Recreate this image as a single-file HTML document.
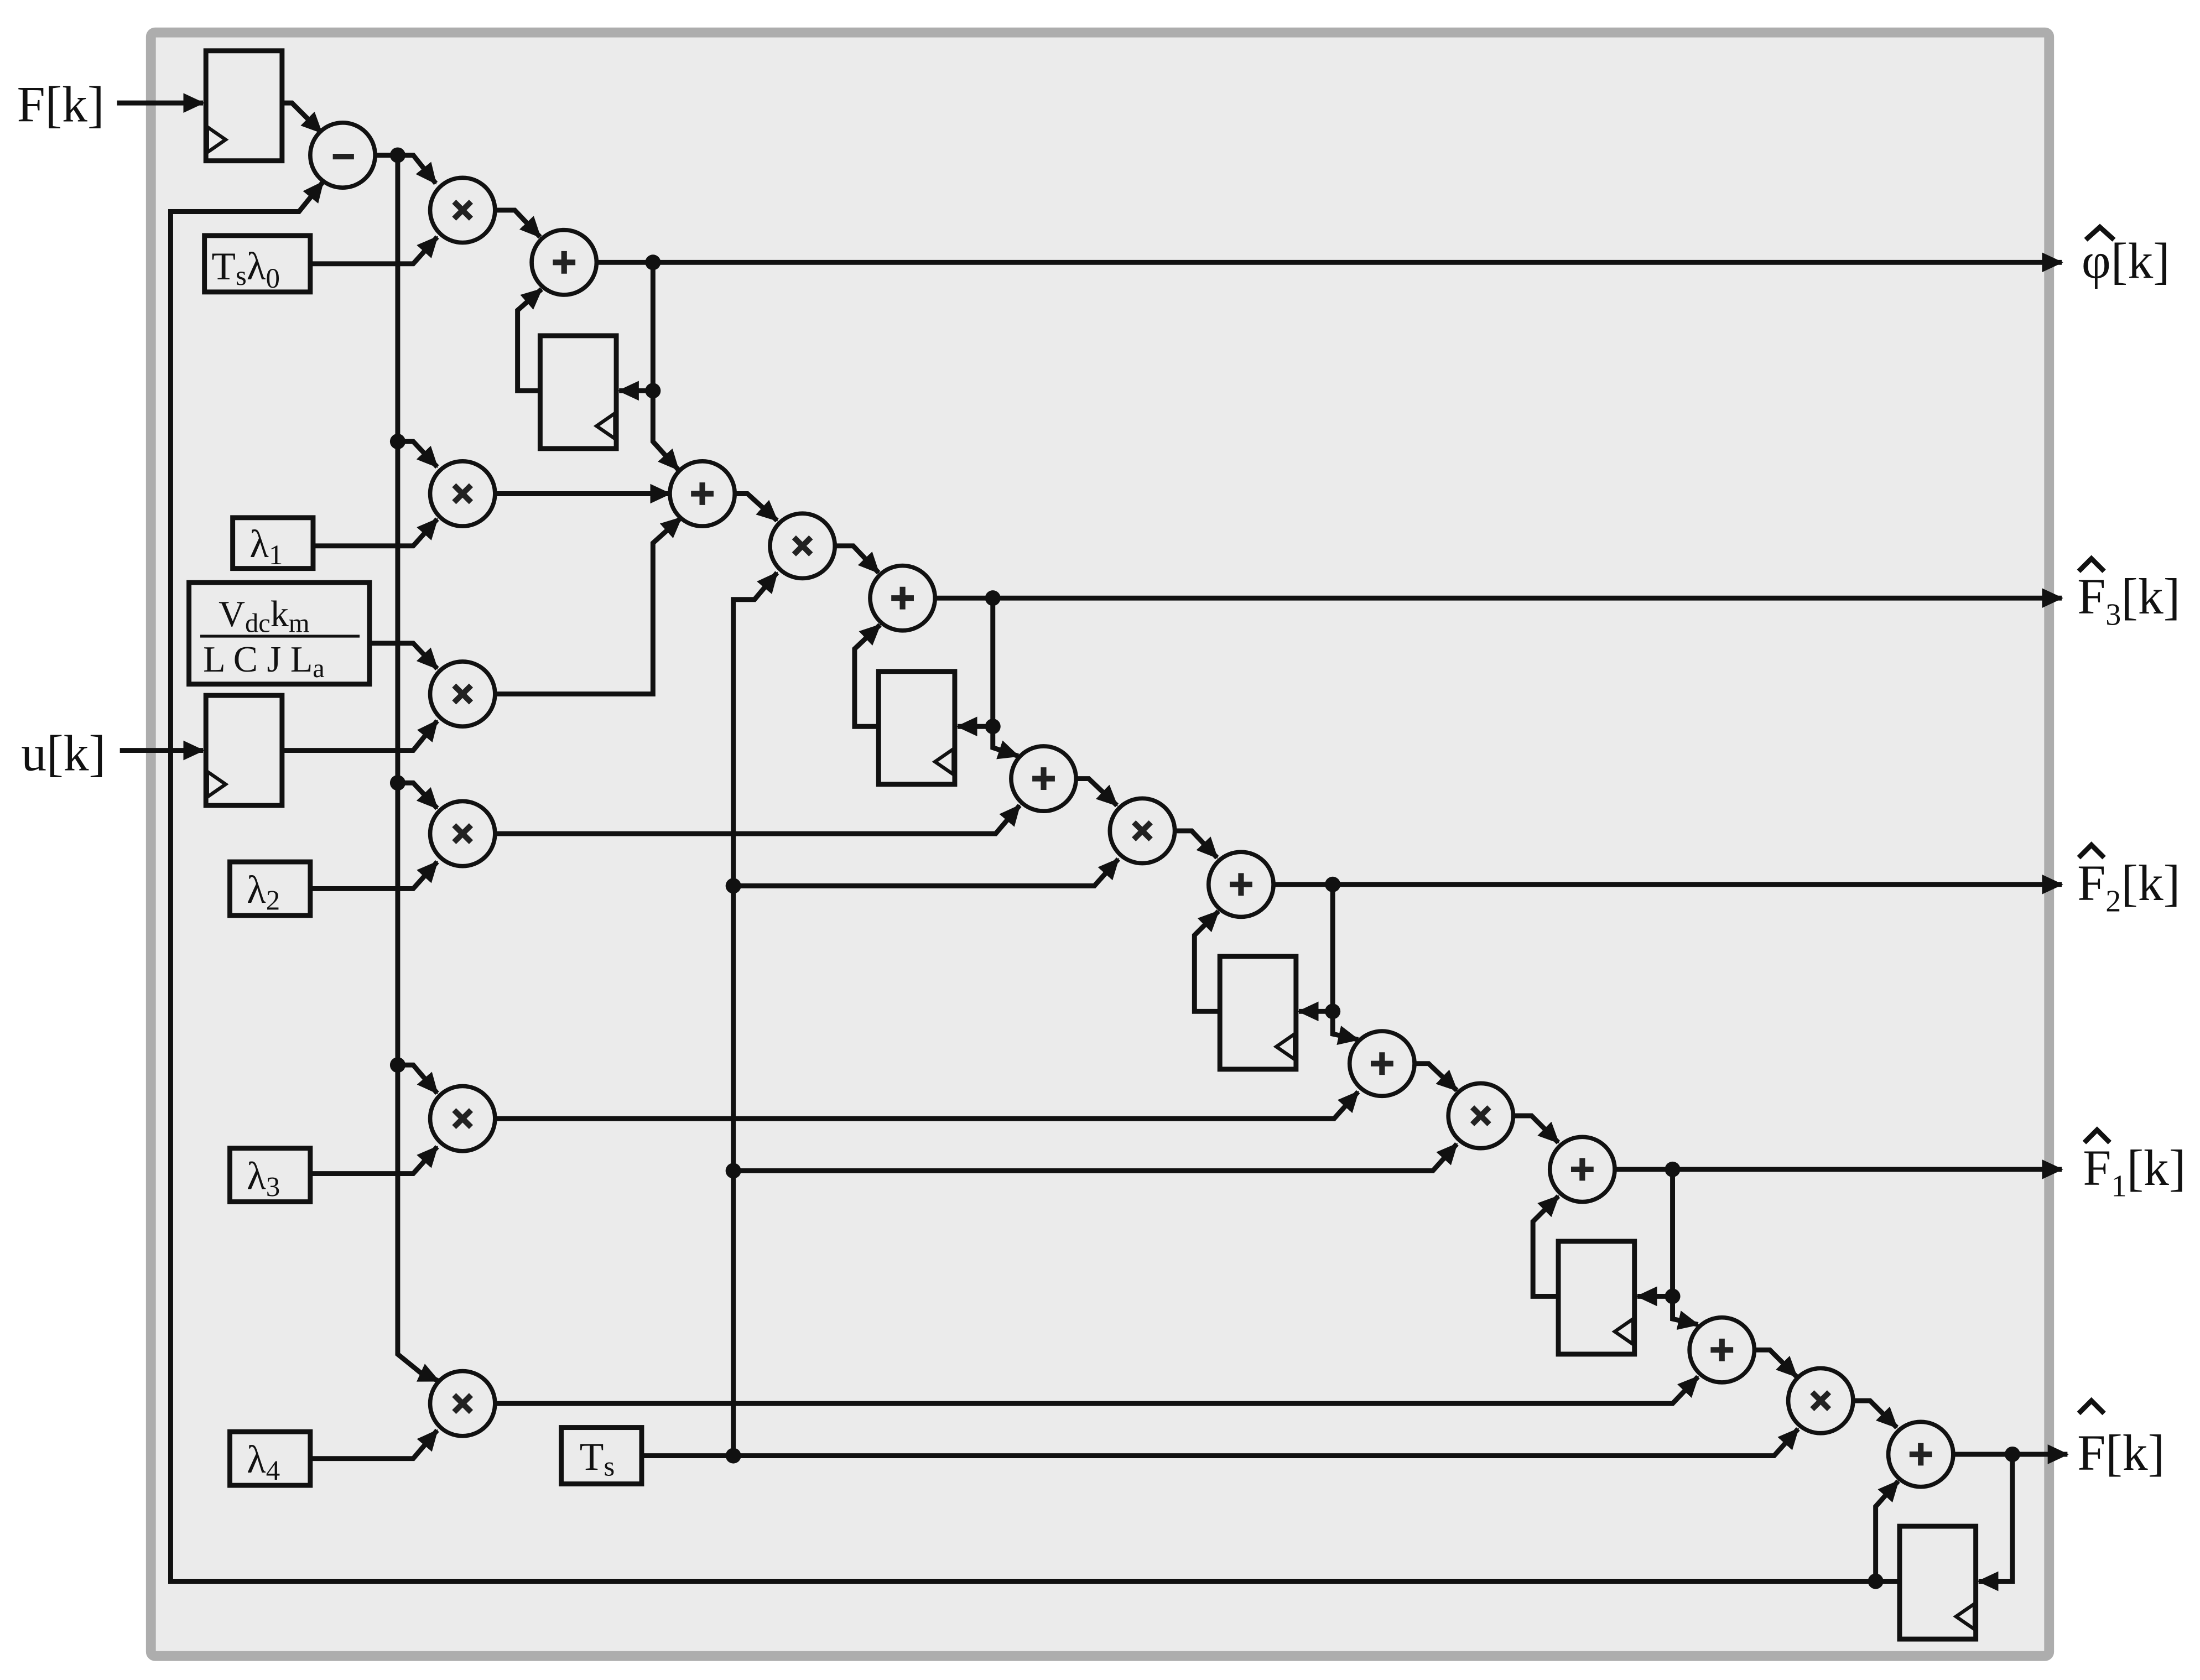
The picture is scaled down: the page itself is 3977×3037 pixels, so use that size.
<!DOCTYPE html>
<html><head><meta charset="utf-8"><style>
html,body{margin:0;padding:0;background:#fff;}
svg{display:block;}
text{font-family:"Liberation Serif",serif;fill:#111;}
</style></head><body>
<svg width="3977" height="3037" viewBox="0 0 1560 1191" preserveAspectRatio="none" xmlns="http://www.w3.org/2000/svg">
<defs>
<marker id="a" markerUnits="userSpaceOnUse" markerWidth="16" markerHeight="14" refX="14" refY="7" orient="auto">
<path d="M0,0 L15,7 L0,14 Z" fill="#111"/></marker>
</defs>
<rect x="107" y="23" width="1346" height="1151" fill="#ebebeb" stroke="#adadad" stroke-width="7" rx="3"/>
<g stroke="#111" stroke-width="3.5" fill="none" stroke-linejoin="miter">
<line x1="83" y1="73" x2="144" y2="73" marker-end="url(#a)"/>
<line x1="85" y1="532" x2="144" y2="532" marker-end="url(#a)"/>
<rect x="146" y="36" width="54" height="78"/>
<rect x="146" y="493" width="54" height="78"/>
<rect x="383" y="238" width="54" height="80"/>
<rect x="623" y="476" width="54" height="80"/>
<rect x="865" y="678" width="54" height="80"/>
<rect x="1105" y="880" width="54" height="80"/>
<rect x="1347" y="1082" width="54" height="80"/>
<rect x="145" y="167" width="75" height="40"/>
<rect x="165" y="367" width="57" height="36"/>
<rect x="134" y="413" width="128" height="72"/>
<rect x="163" y="611" width="57" height="38"/>
<rect x="163" y="814" width="57" height="38"/>
<rect x="163" y="1015" width="57" height="38"/>
<rect x="398" y="1012" width="57" height="40"/>
<line x1="142" y1="451" x2="255" y2="451" stroke-width="2"/>
</g>
<g stroke="#111" stroke-width="2.5" fill="none">
<path d="M147,108 L147,90 L160,99 Z"/>
<path d="M147,565 L147,547 L160,556 Z"/>
<path d="M436,311 L436,293 L423,302 Z"/>
<path d="M676,549 L676,531 L663,540 Z"/>
<path d="M918,751 L918,733 L905,742 Z"/>
<path d="M1158,953 L1158,935 L1145,944 Z"/>
<path d="M1400,1155 L1400,1137 L1387,1146 Z"/>
</g>
<g stroke="#111" stroke-width="3.5" fill="none" stroke-linejoin="miter">
<polyline points="200,73 207,73 228,94" marker-end="url(#a)"/>
<polyline points="1330,1121 121,1121 121,150 212,150 229,129" marker-end="url(#a)"/>
<polyline points="266,110 293,110 309,130" marker-end="url(#a)"/>
<polyline points="282,110 282,960 298,973 311,979" marker-end="url(#a)"/>
<polyline points="220,187 293,187 310,168" marker-end="url(#a)"/>
<polyline points="351,149 365,149 383,168" marker-end="url(#a)"/>
<line x1="423" y1="186" x2="1462" y2="186" marker-end="url(#a)"/>
<polyline points="463,186 463,313 481,333" marker-end="url(#a)"/>
<line x1="463" y1="277" x2="439" y2="277" marker-end="url(#a)"/>
<polyline points="383,277 367,277 367,220 384,205" marker-end="url(#a)"/>
<polyline points="282,313 293,313 310,331" marker-end="url(#a)"/>
<polyline points="222,387 293,387 310,368" marker-end="url(#a)"/>
<line x1="351" y1="350" x2="475" y2="350" marker-end="url(#a)"/>
<polyline points="351,492 463,492 463,385 483,367" marker-end="url(#a)"/>
<polyline points="262,456 293,456 310,474" marker-end="url(#a)"/>
<polyline points="200,532 293,532 310,511" marker-end="url(#a)"/>
<polyline points="282,555 293,555 310,573" marker-end="url(#a)"/>
<polyline points="220,630 293,630 310,611" marker-end="url(#a)"/>
<polyline points="282,755 293,755 310,775" marker-end="url(#a)"/>
<polyline points="220,832 293,832 310,813" marker-end="url(#a)"/>
<polyline points="220,1034 293,1034 310,1014" marker-end="url(#a)"/>
<polyline points="455,1032 1258,1032 1275,1013" marker-end="url(#a)"/>
<polyline points="520,1032 520,425 535,425 551,406" marker-end="url(#a)"/>
<polyline points="521,350 530,350 551,369" marker-end="url(#a)"/>
<polyline points="592,387 605,387 623,406" marker-end="url(#a)"/>
<line x1="663" y1="424" x2="1462" y2="424" marker-end="url(#a)"/>
<polyline points="704,424 704,530 722,536" marker-end="url(#a)"/>
<line x1="704" y1="515" x2="679" y2="515" marker-end="url(#a)"/>
<polyline points="623,515 606,515 606,460 624,443" marker-end="url(#a)"/>
<polyline points="351,591 706,591 723,571" marker-end="url(#a)"/>
<polyline points="763,552 772,552 792,571" marker-end="url(#a)"/>
<polyline points="520,628 776,628 793,609" marker-end="url(#a)"/>
<polyline points="833,589 845,589 863,608" marker-end="url(#a)"/>
<line x1="903" y1="627" x2="1462" y2="627" marker-end="url(#a)"/>
<polyline points="945,627 945,733 963,737" marker-end="url(#a)"/>
<line x1="945" y1="717" x2="921" y2="717" marker-end="url(#a)"/>
<polyline points="865,717 847,717 847,663 864,646" marker-end="url(#a)"/>
<polyline points="351,793 946,793 963,774" marker-end="url(#a)"/>
<polyline points="1003,754 1013,754 1033,773" marker-end="url(#a)"/>
<polyline points="520,830 1016,830 1033,811" marker-end="url(#a)"/>
<polyline points="1073,791 1086,791 1105,810" marker-end="url(#a)"/>
<line x1="1145" y1="829" x2="1462" y2="829" marker-end="url(#a)"/>
<polyline points="1186,829 1186,935 1204,939" marker-end="url(#a)"/>
<line x1="1186" y1="919" x2="1161" y2="919" marker-end="url(#a)"/>
<polyline points="1105,919 1087,919 1087,866 1105,848" marker-end="url(#a)"/>
<polyline points="351,995 1186,995 1204,976" marker-end="url(#a)"/>
<polyline points="1244,957 1255,957 1274,976" marker-end="url(#a)"/>
<polyline points="1314,993 1326,993 1345,1012" marker-end="url(#a)"/>
<line x1="1385" y1="1031" x2="1466" y2="1031" marker-end="url(#a)"/>
<polyline points="1427,1031 1427,1121 1403,1121" marker-end="url(#a)"/>
<polyline points="1347,1121 1330,1121 1330,1068 1346,1050" marker-end="url(#a)"/>
</g>
<g fill="#111">
<circle cx="282" cy="110" r="5.5"/><circle cx="282" cy="313" r="5.5"/><circle cx="282" cy="555" r="5.5"/><circle cx="282" cy="755" r="5.5"/>
<circle cx="463" cy="186" r="5.5"/><circle cx="463" cy="277" r="5.5"/>
<circle cx="520" cy="628" r="5.5"/><circle cx="520" cy="830" r="5.5"/><circle cx="520" cy="1032" r="5.5"/>
<circle cx="704" cy="424" r="5.5"/><circle cx="704" cy="515" r="5.5"/>
<circle cx="945" cy="627" r="5.5"/><circle cx="945" cy="717" r="5.5"/>
<circle cx="1186" cy="829" r="5.5"/><circle cx="1186" cy="919" r="5.5"/>
<circle cx="1427" cy="1031" r="5.5"/><circle cx="1330" cy="1121" r="5.5"/>
</g>
<g stroke="#111" stroke-width="3" fill="#ebebeb">
<circle cx="243" cy="110" r="23"/>
<circle cx="328" cy="149" r="23"/><circle cx="328" cy="350" r="23"/><circle cx="328" cy="492" r="23"/>
<circle cx="328" cy="591" r="23"/><circle cx="328" cy="793" r="23"/><circle cx="328" cy="995" r="23"/>
<circle cx="400" cy="186" r="23"/><circle cx="498" cy="350" r="23"/><circle cx="569" cy="387" r="23"/>
<circle cx="640" cy="424" r="23"/><circle cx="740" cy="552" r="23"/><circle cx="810" cy="589" r="23"/>
<circle cx="880" cy="627" r="23"/><circle cx="980" cy="754" r="23"/><circle cx="1050" cy="791" r="23"/>
<circle cx="1122" cy="829" r="23"/><circle cx="1221" cy="957" r="23"/><circle cx="1291" cy="993" r="23"/>
<circle cx="1362" cy="1031" r="23"/>
</g>
<g stroke="#222" stroke-width="4" fill="none">
<line x1="236" y1="111" x2="251" y2="111"/>
<path d="M322,143 l12,12 M334,143 l-12,12"/><path d="M322,344 l12,12 M334,344 l-12,12"/><path d="M322,486 l12,12 M334,486 l-12,12"/>
<path d="M322,585 l12,12 M334,585 l-12,12"/><path d="M322,787 l12,12 M334,787 l-12,12"/><path d="M322,989 l12,12 M334,989 l-12,12"/>
<path d="M563,381 l12,12 M575,381 l-12,12"/><path d="M804,583 l12,12 M816,583 l-12,12"/><path d="M1044,785 l12,12 M1056,785 l-12,12"/><path d="M1285,987 l12,12 M1297,987 l-12,12"/>
<path d="M392,186 h16 M400,178 v16"/><path d="M490,350 h16 M498,342 v16"/><path d="M632,424 h16 M640,416 v16"/>
<path d="M732,552 h16 M740,544 v16"/><path d="M872,627 h16 M880,619 v16"/><path d="M972,754 h16 M980,746 v16"/>
<path d="M1114,829 h16 M1122,821 v16"/><path d="M1213,957 h16 M1221,949 v16"/><path d="M1354,1031 h16 M1362,1023 v16"/>
</g>
<!-- hats -->
<g stroke="#111" stroke-width="3.5" fill="none">
<polyline points="1479,170 1489,161 1499,170"/>
<polyline points="1474,405 1483,396 1492,405"/>
<polyline points="1474,608 1483,599 1492,608"/>
<polyline points="1478,810 1487,801 1496,810"/>
<polyline points="1474,1002 1483,993 1492,1002"/>
</g>
<g font-size="36">
<text x="12" y="86">F[k]</text>
<text x="15" y="546">u[k]</text>
<text x="1476" y="197">φ[k]</text>
<text x="1473" y="435">F<tspan font-size="22" dy="8">3</tspan><tspan dy="-8">[k]</tspan></text>
<text x="1473" y="638">F<tspan font-size="22" dy="8">2</tspan><tspan dy="-8">[k]</tspan></text>
<text x="1477" y="840">F<tspan font-size="22" dy="8">1</tspan><tspan dy="-8">[k]</tspan></text>
<text x="1473" y="1042">F[k]</text>
</g>
<g font-size="28">
<text x="150" y="198">T<tspan font-size="20" dy="4">s</tspan><tspan dy="-4">λ</tspan><tspan font-size="20" dy="6">0</tspan></text>
<text x="177" y="395">λ<tspan font-size="20" dy="5">1</tspan></text>
<text x="175" y="640">λ<tspan font-size="20" dy="5">2</tspan></text>
<text x="175" y="843">λ<tspan font-size="20" dy="5">3</tspan></text>
<text x="175" y="1044">λ<tspan font-size="20" dy="5">4</tspan></text>
<text x="411" y="1042">T<tspan font-size="20" dy="4">s</tspan></text>
<text x="155" y="444" font-size="26">V<tspan font-size="19" dy="4">dc</tspan><tspan dy="-4">k</tspan><tspan font-size="19" dy="4">m</tspan></text>
<text x="144" y="476" font-size="26">L C J L<tspan font-size="19" dy="4">a</tspan></text>
</g>
</svg>
</body></html>
